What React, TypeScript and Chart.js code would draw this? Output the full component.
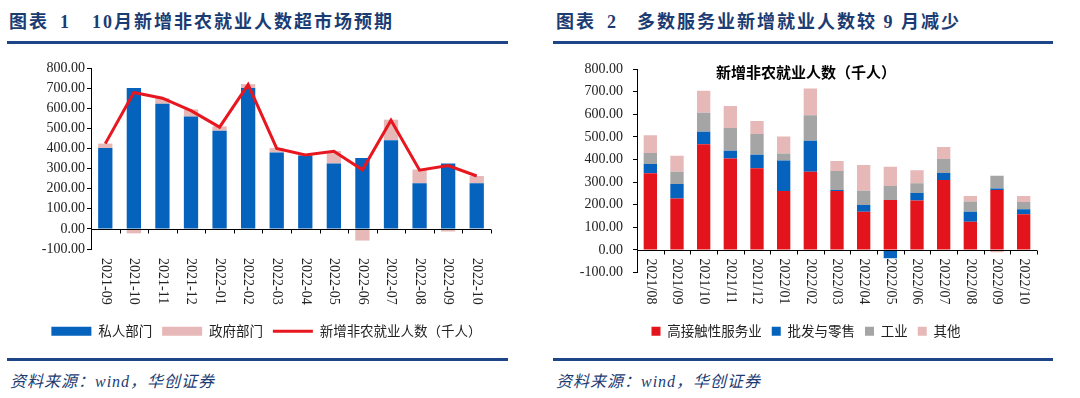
import React, { useEffect, useRef } from "react";
import { Chart, registerables } from "chart.js";
Chart.register(...registerables);

// ---------- Chart 1 data ----------
const months1 = [
  "2021-09", "2021-10", "2021-11", "2021-12", "2022-01", "2022-02", "2022-03",
  "2022-04", "2022-05", "2022-06", "2022-07", "2022-08", "2022-09", "2022-10",
];
const privateSector = [402, 700, 622, 559, 488, 700, 380, 365, 325, 352, 441, 227, 325, 227];
const governmentSector = [22, -22, 28, 35, 22, 20, 22, 3, 62, -58, 102, 68, -13, 36];
const totalNonfarm = [424, 678, 650, 588, 506, 717, 400, 368, 386, 294, 540, 292, 315, 263];

// ---------- Chart 2 data ----------
const months2 = [
  "2021/08", "2021/09", "2021/10", "2021/11", "2021/12", "2022/01", "2022/02", "2022/03",
  "2022/04", "2022/05", "2022/06", "2022/07", "2022/08", "2022/09", "2022/10",
];
const highContactServices = [339, 228, 467, 404, 361, 261, 346, 261, 169, 221, 219, 309, 125, 265, 158];
const wholesaleRetail = [41, 64, 56, 35, 60, 134, 137, 4, 30, -37, 33, 31, 44, 7, 22];
const industry = [49, 54, 84, 100, 92, 32, 113, 84, 63, 62, 43, 62, 45, 56, 32];
const others = [78, 71, 97, 97, 57, 75, 118, 44, 114, 85, 57, 53, 25, -10, 27];

const yTicks = [-100, 0, 100, 200, 300, 400, 500, 600, 700, 800];

const BLUE = "#0563BE";
const PINK = "#E6B9B8";
const RED = "#E8161E";
const GRAY = "#A5A5A5";
const NAVY = "#1B3C73";
const RULE = "#1F4589";
const CJK = '"Noto Sans CJK SC", sans-serif';
const SERIF = '"Liberation Serif", "Times New Roman", serif';

function axisPlugin(labels: string[], labelTop: (bottom: number, y0: number) => number) {
  return {
    id: "customAxis",
    afterDatasetsDraw(chart: any) {
      const { ctx, chartArea, scales } = chart;
      const xs = scales.x;
      const ys = scales.y;
      const y0 = Math.round(ys.getPixelForValue(0)) + 0.5;
      ctx.save();
      ctx.strokeStyle = "#000";
      ctx.lineWidth = 1;
      ctx.beginPath();
      ctx.moveTo(chartArea.left, y0);
      ctx.lineTo(chartArea.right, y0);
      for (let i = 0; i <= labels.length; i++) {
        const bx = Math.round(xs.getPixelForValue(i - 0.5)) + 0.5;
        ctx.moveTo(bx, y0);
        ctx.lineTo(bx, y0 + 4);
      }
      ctx.stroke();
      ctx.font = `14px ${SERIF}`;
      ctx.fillStyle = "#222";
      ctx.textAlign = "left";
      ctx.textBaseline = "middle";
      const top = labelTop(chartArea.bottom, y0);
      labels.forEach((lab, i) => {
        const px = xs.getPixelForValue(i);
        ctx.save();
        ctx.translate(px, top);
        ctx.rotate(Math.PI / 2);
        ctx.fillText(lab, 0, 0);
        ctx.restore();
      });
      ctx.restore();
    },
  };
}

function legendLabels(chart: any) {
  return chart.data.datasets.map((ds: any, i: number) => {
    const isLine = ds.type === "line";
    return {
      text: ds.label,
      fillStyle: isLine ? "rgba(0,0,0,0)" : ds.backgroundColor,
      strokeStyle: isLine ? ds.borderColor : ds.backgroundColor,
      lineWidth: isLine ? 3 : 0,
      pointStyle: isLine ? "line" : "rect",
      hidden: false,
      datasetIndex: i,
      fontColor: "#222",
    };
  });
}

function yScale(width: number, padding: number) {
  return {
    type: "linear",
    position: "left",
    stacked: true,
    min: -100,
    max: 800,
    afterBuildTicks: (s: any) => {
      s.ticks = yTicks.map((v) => ({ value: v }));
    },
    afterFit: (s: any) => {
      s.width = width;
    },
    border: { display: true, color: "#000", width: 1 },
    grid: { drawOnChartArea: false, drawTicks: true, tickLength: 4, color: "#000" },
    ticks: {
      padding,
      color: "#222",
      font: { family: SERIF, size: 14 },
      callback: (v: any) => Number(v).toFixed(2),
    },
  };
}

function xScale(height: number) {
  return {
    type: "category",
    stacked: true,
    offset: true,
    afterFit: (s: any) => {
      s.height = height;
    },
    grid: { display: false },
    border: { display: false },
    ticks: { display: false },
  };
}

function dummyRight(width: number) {
  return {
    type: "linear",
    position: "right",
    display: true,
    afterFit: (s: any) => {
      s.width = width;
    },
    grid: { display: false },
    border: { display: false },
    ticks: { display: false },
  };
}

function Chart1() {
  const ref = useRef<HTMLCanvasElement>(null);
  useEffect(() => {
    const chart = new Chart(ref.current as HTMLCanvasElement, {
      type: "bar",
      data: {
        labels: months1,
        datasets: [
          { type: "bar", label: "私人部门", data: privateSector, backgroundColor: BLUE, order: 1, barPercentage: 0.5, categoryPercentage: 1 },
          { type: "bar", label: "政府部门", data: governmentSector, backgroundColor: PINK, order: 1, barPercentage: 0.5, categoryPercentage: 1 },
          {
            type: "line", label: "新增非农就业人数（千人）", data: totalNonfarm, borderColor: RED, backgroundColor: RED,
            borderWidth: 3, pointRadius: 0, tension: 0, order: 0, stack: "line",
          },
        ],
      } as any,
      options: {
        responsive: false,
        animation: false,
        layout: { padding: { top: 18, left: 0, right: 0, bottom: 0 } },
        scales: {
          x: xScale(65.5),
          y: yScale(91, 2),
          yR: dummyRight(42),
        } as any,
        plugins: {
          legend: {
            position: "bottom",
            labels: {
              usePointStyle: true,
              pointStyleWidth: 40,
              boxHeight: 9,
              padding: 10,
              color: "#222",
              font: { family: CJK, size: 13.5 },
              generateLabels: legendLabels,
            },
          },
          tooltip: { enabled: false },
        },
      } as any,
      plugins: [axisPlugin(months1, (bottom) => bottom + 9)],
    });
    return () => chart.destroy();
  }, []);
  return <canvas ref={ref} width={533} height={298} style={{ position: "absolute", left: 0, top: 50 }} />;
}

function Chart2() {
  const ref = useRef<HTMLCanvasElement>(null);
  useEffect(() => {
    const innerTitle = {
      id: "innerTitle",
      afterDraw(chart: any) {
        const { ctx } = chart;
        ctx.save();
        ctx.font = `bold 15px ${CJK}`;
        ctx.fillStyle = "#000";
        ctx.textAlign = "center";
        ctx.textBaseline = "middle";
        ctx.fillText("新增非农就业人数（千人）", chart.width / 2, 22);
        ctx.restore();
      },
    };
    const common = { barPercentage: 0.5, categoryPercentage: 1 };
    const chart = new Chart(ref.current as HTMLCanvasElement, {
      type: "bar",
      data: {
        labels: months2,
        datasets: [
          { label: "高接触性服务业", data: highContactServices, backgroundColor: "#E3141C", ...common },
          { label: "批发与零售", data: wholesaleRetail, backgroundColor: BLUE, ...common },
          { label: "工业", data: industry, backgroundColor: GRAY, ...common },
          { label: "其他", data: others, backgroundColor: PINK, ...common },
        ],
      } as any,
      options: {
        responsive: false,
        animation: false,
        layout: { padding: { top: 19, left: 0, right: 0, bottom: 0 } },
        scales: {
          x: xScale(41.9),
          y: yScale(92, 10),
          yR: dummyRight(30),
        } as any,
        plugins: {
          legend: {
            position: "bottom",
            labels: {
              usePointStyle: true,
              pointStyleWidth: 9,
              boxHeight: 9,
              padding: 10,
              color: "#222",
              font: { family: CJK, size: 13.5 },
              generateLabels: legendLabels,
            },
          },
          tooltip: { enabled: false },
        },
      } as any,
      plugins: [axisPlugin(months2, (_b, y0) => y0 + 8), innerTitle],
    });
    return () => chart.destroy();
  }, []);
  return <canvas ref={ref} width={522} height={298} style={{ position: "absolute", left: 545, top: 50 }} />;
}

const titleFont: React.CSSProperties = {
  position: "absolute",
  top: 12,
  fontFamily: `"Liberation Serif", ${CJK}`,
  fontWeight: 700,
  fontSize: 18,
  lineHeight: "20px",
  letterSpacing: 2,
  color: NAVY,
  whiteSpace: "nowrap",
};

const sourceFont: React.CSSProperties = {
  position: "absolute",
  top: 372,
  fontFamily: `"Liberation Serif", ${CJK}`,
  fontStyle: "italic",
  fontSize: 16,
  lineHeight: "20px",
  letterSpacing: 1,
  color: NAVY,
  whiteSpace: "nowrap",
};

function Rule({ left, top, width }: { left: number; top: number; width: number }) {
  return <div style={{ position: "absolute", left, top, width, height: 3, background: RULE }} />;
}

export default function App() {
  return (
    <div
      style={{
        position: "fixed",
        left: 0,
        top: 0,
        width: 1080,
        height: 398,
        background: "#fff",
        overflow: "hidden",
      }}
    >
      <span style={{ ...titleFont, left: 9 }}>图表</span>
      <span style={{ ...titleFont, left: 60 }}>1</span>
      <span style={{ ...titleFont, left: 92 }}>10月新增非农就业人数超市场预期</span>
      <span style={{ ...titleFont, left: 556 }}>图表</span>
      <span style={{ ...titleFont, left: 607 }}>2</span>
      <span style={{ ...titleFont, left: 637 }}>多数服务业新增就业人数较 9 月减少</span>
      <Rule left={7} top={41} width={501} />
      <Rule left={553} top={41} width={500} />
      <Chart1 />
      <Chart2 />
      <Rule left={7} top={358} width={501} />
      <Rule left={553} top={358} width={500} />
      <span style={{ ...sourceFont, left: 10 }}>资料来源：wind，华创证券</span>
      <span style={{ ...sourceFont, left: 556 }}>资料来源：wind，华创证券</span>
    </div>
  );
}
